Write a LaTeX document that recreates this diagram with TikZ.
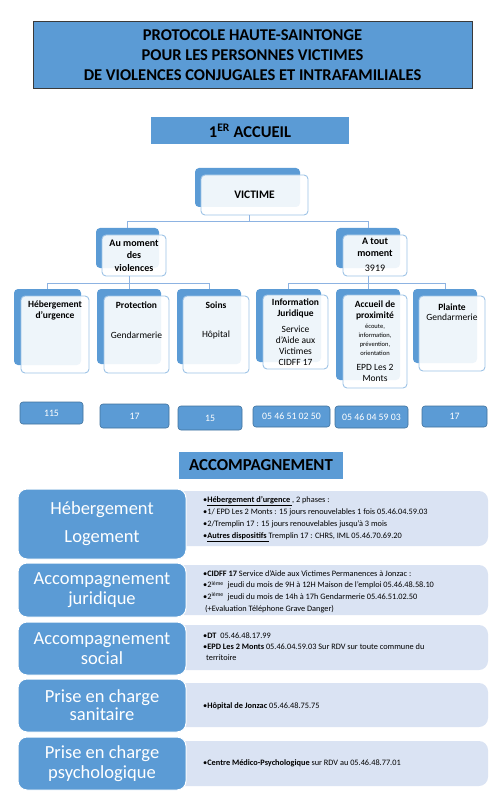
\documentclass[tikz,border=0pt]{standalone}
\usepackage{fontspec}
\setmainfont{Carlito}
\usetikzlibrary{calc}
\definecolor{accent}{HTML}{5B9BD5}
\definecolor{edge}{HTML}{9DC3E6}
\definecolor{connc}{HTML}{8DB3E2}
\definecolor{phoneedge}{HTML}{41719C}
\definecolor{infofill}{HTML}{DAE3F3}
\definecolor{titleedge}{HTML}{3A3A3A}
\newcommand\rectnode[7]{\node[#1, inner sep=0pt, minimum width={(#5-#3)*1pt}, minimum height={(#6-#4)*1pt}] (#2) at ({(#3+#5)/2},{(#4+#6)/2}) {#7};}
\newcommand\fs[2]{\fontsize{#1}{#2}\selectfont}
\tikzset{
  backbox/.style={fill=accent, rounded corners=4pt, draw=none},
  frontbox/.style={draw=edge, fill=white, fill opacity=0.9, text opacity=1, rounded corners=4pt, line width=0.9pt},
  conn/.style={draw=connc, line width=0.9pt},
  phone/.style={fill=accent, draw=phoneedge, line width=0.6pt, rounded corners=3pt, text=white, font=\fs{9.8}{11}},
  headbox/.style={fill=accent, draw=none, font=\bfseries\fs{16.5}{20}},
  catbox/.style={fill=accent, draw=white, line width=1pt, rounded corners=9pt, text=white, align=center},
  infobox/.style={fill=infofill, draw=none, rounded corners=9pt},
  bl/.style={font=\bfseries\fs{9.5}{11}, align=center, inner sep=0pt},
  rl/.style={font=\fs{9.5}{11}, align=center, inner sep=0pt},
  info/.style={font=\fs{8.3}{11.8}, align=left, anchor=west, inner sep=0pt},
}
\begin{document}
\begin{tikzpicture}[x=1pt,y=-1pt]
\useasboundingbox (0,0) rectangle (498,799);
% title
\rectnode{headbox, draw=titleedge, line width=1pt, align=center}{title}{33}{22}{472}{89}{PROTOCOLE HAUTE-SAINTONGE\\POUR LES PERSONNES VICTIMES\\DE VIOLENCES CONJUGALES ET INTRAFAMILIALES}
\rectnode{headbox}{accueil}{151}{117}{349}{144}{1\textsuperscript{ER} ACCUEIL}

% level 1
\rectnode{backbox}{victimeB}{195}{168}{300}{207}{}
\rectnode{frontbox}{victime}{201}{175}{308}{215}{}
\node[bl, font=\bfseries\fs{11.5}{13}] (victimeT) at (254.5,194.5) {VICTIME};

% level 2
\rectnode{backbox}{aumB}{96}{228}{159}{268}{}
\rectnode{frontbox}{aum}{102}{235}{166}{276}{}
\node[bl, font=\bfseries\fs{10}{12.5}] (aumT) at (134,255.5) {Au moment\\des\\violences};
\rectnode{backbox}{atmB}{336}{228}{400}{268}{}
\rectnode{frontbox}{atm}{343}{235}{407}{276}{}
\node[bl, font=\bfseries\fs{10}{12}] (atmT) at (375,247) {A tout\\moment};
\node[rl, font=\fs{10}{12}] (atmN) at (375,268.5) {3919};

% level 3 left
\rectnode{backbox}{hebB}{14}{289}{81}{365}{}
\rectnode{frontbox}{heb}{21}{296}{89}{373}{}
\node[bl] (hebT) at (55,310.5) {Hébergement\\d’urgence};
\rectnode{backbox}{protB}{97}{289}{161}{364}{}
\rectnode{frontbox}{prot}{104}{296}{169}{373}{}
\node[bl] (protT) at (136.5,305) {Protection};
\node[rl] (protS) at (136.5,335) {Gendarmerie};
\rectnode{backbox}{soinsB}{177}{289}{241}{364}{}
\rectnode{frontbox}{soins}{183}{296}{249}{373}{}
\node[bl] (soinsT) at (216,305) {Soins};
\node[rl] (soinsS) at (216,335) {Hôpital};

% level 3 right
\rectnode{backbox}{infoB}{256}{289}{321}{362}{}
\rectnode{frontbox}{infoj}{263}{295}{328}{369}{}
\node[bl] (infoT) at (295.5,308.5) {Information\\Juridique};
\node[rl] (infoS) at (295.5,345.5) {Service\\d’Aide aux\\Victimes\\CIDFF 17};
\rectnode{backbox}{accB}{336}{289}{400}{380}{}
\rectnode{frontbox}{acc}{343}{295}{407}{388}{}
\node[bl] (accT) at (375,310.5) {Accueil de\\proximité};
\node[rl, font=\fs{6.5}{9}] (accS) at (375,339.5) {écoute,\\information,\\prévention,\\orientation};
\node[rl] (accE) at (375,373) {EPD Les 2\\Monts};
\rectnode{backbox}{plB}{413}{289}{477}{363}{}
\rectnode{frontbox}{pl}{419}{296}{485}{371}{}
\node[bl] (plT) at (452,307) {Plainte};
\node[rl] (plS) at (452,317.5) {Gendarmerie};

% connectors
\coordinate (j1) at (249,221);
\draw[conn] (victime.south -| j1) -- (j1);
\draw[conn] (j1) -| (aumB.north);
\draw[conn] (j1) -| (atmB.north);
\coordinate (j2) at (129,283);
\draw[conn] (aum.south -| j2) -- (j2);
\draw[conn] (j2) -| (hebB.north);
\draw[conn] (j2) -| (soinsB.north);
\draw[conn] (j2) -- (protB.north);
\coordinate (j3) at (368,283);
\draw[conn] (atm.south -| j3) -- (j3);
\draw[conn] (j3) -| (infoB.north);
\draw[conn] (j3) -| (plB.north);
\draw[conn] (j3) -- (accB.north);

% phones
\rectnode{phone}{p1}{20}{402}{83}{424}{115}
\rectnode{phone}{p2}{100}{404}{169}{428}{17}
\rectnode{phone}{p3}{178}{406}{242}{430}{15}
\rectnode{phone}{p4}{253}{406}{330}{427}{05 46 51 02 50}
\rectnode{phone}{p5}{335}{406}{408}{428}{05 46 04 59 03}
\rectnode{phone}{p6}{422}{406}{487}{427}{17}

% accompagnement
\rectnode{headbox, font=\bfseries\fs{16.8}{20}}{accomp}{179}{452}{343}{479}{ACCOMPAGNEMENT}

\rectnode{infobox}{i1}{175}{491}{488}{546}{}
\rectnode{catbox, font=\fs{18.5}{28}}{c1}{18}{489}{186}{559}{Hébergement\\Logement}
\node[info] (t1) at (203,519) {•\underline{\textbf{Hébergement d’urgence }}, 2 phases :\\•1/ EPD Les 2 Monts : 15 jours renouvelables 1 fois 05.46.04.59.03\\•2/Tremplin 17 : 15 jours renouvelables jusqu’à 3 mois\\•\underline{\textbf{Autres dispositifs }}Tremplin 17 : CHRS, IML 05.46.70.69.20};

\rectnode{infobox}{i2}{175}{565}{488}{615}{}
\rectnode{catbox, font=\fs{18.5}{20}}{c2}{18}{563}{186}{617}{Accompagnement\\juridique}
\node[info, font=\fs{8.3}{11.7}] (t2) at (203,591.5) {•\textbf{CIDFF 17} Service d’Aide aux Victimes Permanences à Jonzac :\\•2\textsuperscript{ième}\ \ jeudi du mois de 9H à 12H Maison de l’emploi 05.46.48.58.10\\•2\textsuperscript{ième}\ \ jeudi du mois de 14h à 17h Gendarmerie 05.46.51.02.50\\\hspace*{2pt}(+Evaluation Téléphone Grave Danger)};

\rectnode{infobox}{i3}{175}{625}{488}{670}{}
\rectnode{catbox, font=\fs{18.5}{20}}{c3}{18}{622}{186}{675}{Accompagnement\\social}
\node[info, font=\fs{8.3}{11}] (t3) at (203,647) {•\textbf{DT}\ \ 05.46.48.17.99\\•\textbf{EPD Les 2 Monts} 05.46.04.59.03 Sur RDV sur toute commune du\\\hspace*{3pt}territoire};

\rectnode{infobox}{i4}{175}{683}{488}{727}{}
\rectnode{catbox, font=\fs{18.5}{18}}{c4}{18}{679}{186}{732}{Prise en charge\\sanitaire}
\node[info] (t4) at (203,706) {•\textbf{Hôpital de Jonzac} 05.46.48.75.75};

\rectnode{infobox}{i5}{175}{741}{488}{786}{}
\rectnode{catbox, font=\fs{18.5}{20}}{c5}{18}{737}{186}{790}{Prise en charge\\psychologique}
\node[info] (t5) at (203,763) {•\textbf{Centre Médico-Psychologique} sur RDV au 05.46.48.77.01};
\end{tikzpicture}
\end{document}
